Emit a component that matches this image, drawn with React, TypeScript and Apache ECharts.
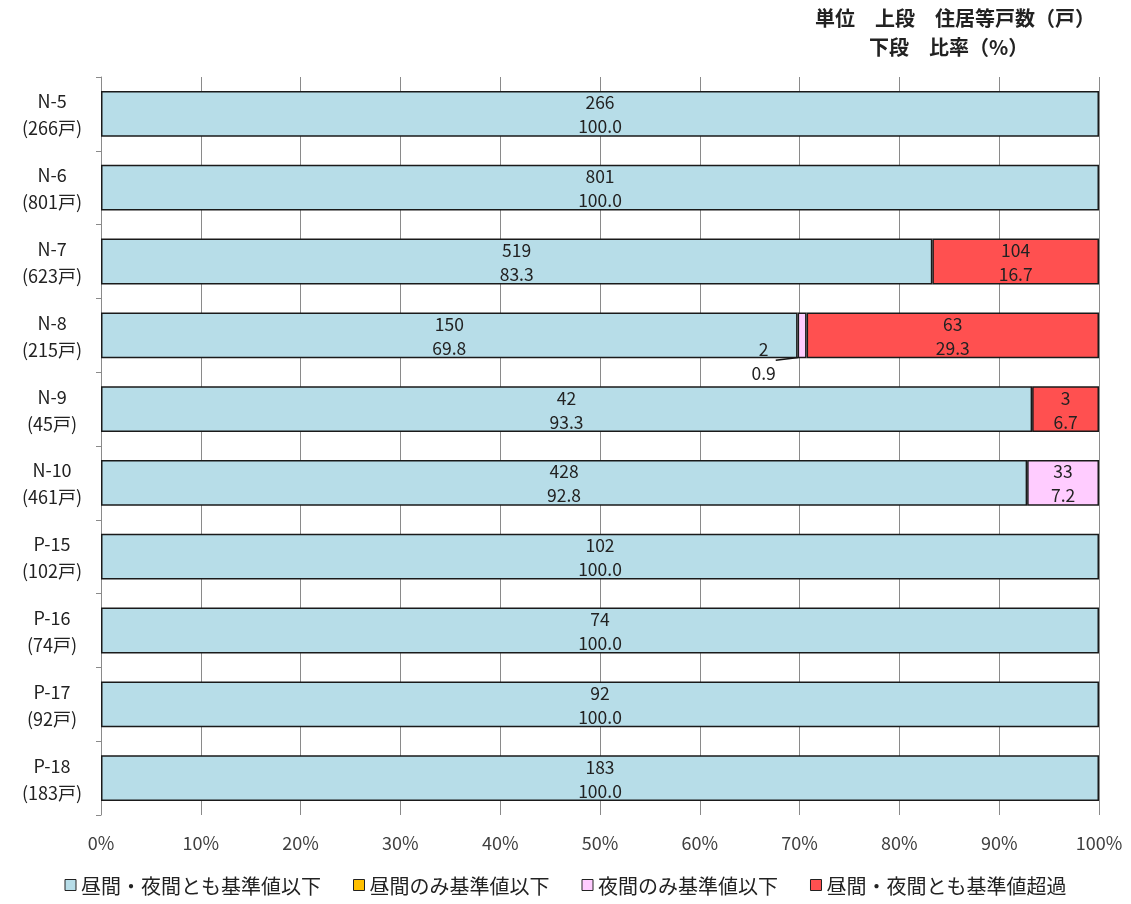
import React, { useEffect, useRef } from "react";
import * as echarts from "echarts";

const categories = ["N-5", "N-6", "N-7", "N-8", "N-9", "N-10", "P-15", "P-16", "P-17", "P-18"];
const totals = [266, 801, 623, 215, 45, 461, 102, 74, 92, 183];
const seriesNames = [
  "昼間・夜間とも基準値以下",
  "昼間のみ基準値以下",
  "夜間のみ基準値以下",
  "昼間・夜間とも基準値超過",
];
const seriesColors = ["#b7dde8", "#ffc000", "#ffccff", "#ff5050"];
const countsBoth = [266, 801, 519, 150, 42, 428, 102, 74, 92, 183];
const pctBoth = [100.0, 100.0, 83.3, 69.8, 93.3, 92.8, 100.0, 100.0, 100.0, 100.0];
const countsDay = [0, 0, 0, 0, 0, 0, 0, 0, 0, 0];
const pctDay = [0, 0, 0, 0, 0, 0, 0, 0, 0, 0];
const countsNight = [0, 0, 0, 2, 0, 33, 0, 0, 0, 0];
const pctNight = [0, 0, 0, 0.9, 0, 7.2, 0, 0, 0, 0];
const countsOver = [0, 0, 104, 63, 3, 0, 0, 0, 0, 0];
const pctOver = [0, 0, 16.7, 29.3, 6.7, 0, 0, 0, 0, 0];
const xTicks = [0, 10, 20, 30, 40, 50, 60, 70, 80, 90, 100];

const FONT = "'Noto Sans CJK JP', 'Noto Sans', sans-serif";

export default function App() {
  const ref = useRef<HTMLDivElement>(null);
  useEffect(() => {
    if (!ref.current) return;
    const chart = echarts.init(ref.current, null, { renderer: "svg" });
    const counts = [countsBoth, countsDay, countsNight, countsOver];
    const pcts = [pctBoth, pctDay, pctNight, pctOver];
    const series = pcts.map((p, si) => ({
      name: seriesNames[si],
      type: "bar",
      stack: "total",
      barWidth: "62%",
      itemStyle: { color: seriesColors[si], borderColor: "#1a1a1a", borderWidth: 1.5 },
      label: {
        show: true,
        position: "inside",
        color: "#222",
        fontFamily: FONT,
        fontSize: 17.5,
        lineHeight: 24,
        formatter: (prm: any) =>
          prm.value === "-" ? "" : `${counts[si][prm.dataIndex]}\n${pcts[si][prm.dataIndex].toFixed(1)}`,
      },
      labelLine: si === 2 ? { show: true, lineStyle: { color: "#111", width: 1.5 } } : undefined,
      labelLayout:
        si === 2
          ? (prm: any) => {
              if (prm.dataIndex !== 3) return {};
              return {
                x: prm.rect.x - 34,
                y: prm.rect.y + prm.rect.height + 2,
                align: "center",
                verticalAlign: "middle",
              };
            }
          : undefined,
      data: p.map((v) => (v === 0 ? "-" : v)),
    }));
    chart.setOption({
      animation: false,
      textStyle: { fontFamily: FONT },
      grid: { left: 101, right: 32, top: 77, bottom: 89 },
      xAxis: {
        type: "value",
        min: 0,
        max: 100,
        interval: 10,
        axisLine: { show: false },
        axisTick: { show: false },
        splitLine: { show: true, lineStyle: { color: "#8a8a8a", width: 1 } },
        axisLabel: {
          color: "#404040",
          fontSize: 18,
          margin: 18,
          fontFamily: FONT,
          formatter: (v: number) => (xTicks.includes(v) ? `${v}%` : ""),
        },
      },
      yAxis: {
        type: "category",
        inverse: true,
        data: categories.map((c, i) => `${c}\n(${totals[i]}戸)`),
        axisLine: { show: true, lineStyle: { color: "#8a8a8a", width: 1 } },
        axisTick: { show: true, length: 5, inside: false, lineStyle: { color: "#8a8a8a" } },
        axisLabel: {
          color: "#222",
          fontSize: 18,
          lineHeight: 27,
          margin: 49,
          align: "center",
          fontFamily: FONT,
        },
      },
      legend: {
        bottom: 4,
        left: "center",
        icon: "rect",
        itemWidth: 11,
        itemHeight: 11,
        itemGap: 32,
        itemStyle: { borderColor: "#222", borderWidth: 1 },
        textStyle: { fontSize: 20, color: "#222", fontFamily: FONT },
        data: seriesNames,
      },
      graphic: [
        {
          type: "text",
          left: 815,
          top: 7,
          style: {
            text: "単位　上段　住居等戸数（戸）",
            fontSize: 20,
            fontWeight: "bold",
            fill: "#222",
            fontFamily: FONT,
          },
        },
        {
          type: "text",
          left: 869,
          top: 36,
          style: {
            text: "下段　比率（%）",
            fontSize: 20,
            fontWeight: "bold",
            fill: "#222",
            fontFamily: FONT,
          },
        },
      ],
      series,
    });
    return () => chart.dispose();
  }, []);
  return <div ref={ref} style={{ position: "fixed", left: 0, top: 0, width: 1131, height: 904 }} />;
}
